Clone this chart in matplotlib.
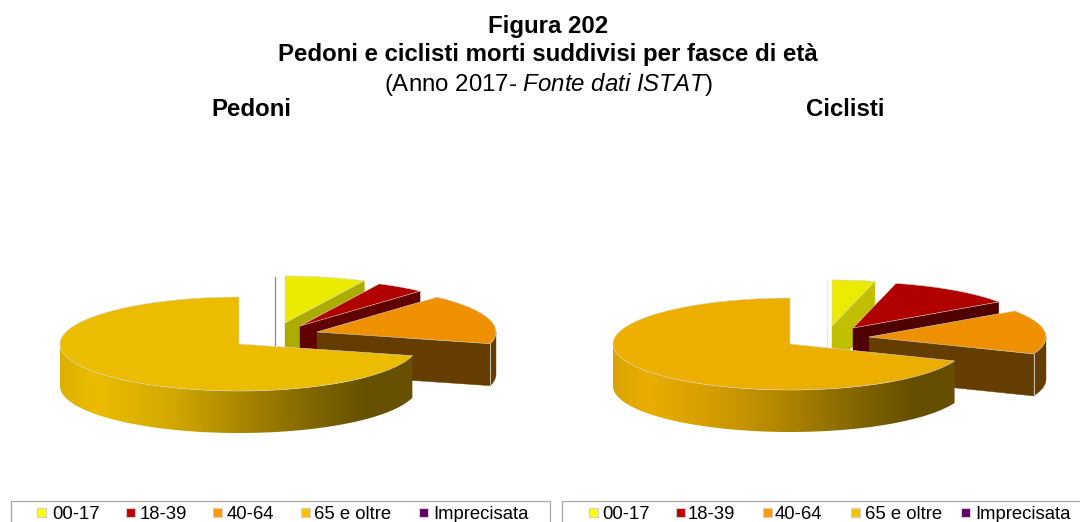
import numpy as np
import matplotlib
matplotlib.use("Agg")
import matplotlib.pyplot as plt
from matplotlib.colors import to_rgb
from matplotlib.patches import Rectangle, Polygon

plt.rcParams['font.family'] = ['Liberation Sans', 'DejaVu Sans']
plt.rcParams['mathtext.fontset'] = 'custom'
plt.rcParams['mathtext.rm'] = 'Liberation Sans'
plt.rcParams['mathtext.it'] = 'Liberation Sans:italic'

categories = ['00-17', '18-39', '40-64', '65 e oltre', 'Imprecisata']
pedoni = [7.3, 4.4, 17.3, 71.0, 0.0]
ciclisti = [3.9, 11.5, 15.6, 69.0, 0.0]

LEGEND_COLORS = ['#FFFF00', '#C00000', '#FF9900', '#FFC000', '#660066']

fig = plt.figure(figsize=(10.8, 5.22), dpi=100)
ax = fig.add_axes([0, 0, 1, 1])
ax.axis('off')


def pt(cx, cy, rx, ry, deg):
    a = np.radians(deg)
    return cx + rx * np.sin(a), cy - ry * np.cos(a)


def shade(t, stops):
    ts = [s[0] for s in stops]
    cols = np.array([to_rgb(s[1]) for s in stops])
    return np.stack([np.interp(t, ts, cols[:, i]) for i in range(3)], axis=-1)


def draw_pie(values, cx, cy, rx, ry, depth, offsets, tops, sides, big_stops, zero_col, rim_col):
    total = sum(values)
    starts = np.cumsum([0] + list(values))[:-1] / total * 360
    order = [4, 0, 1, 2, 3]
    for i in order:
        s = starts[i]
        e = s + values[i] / total * 360
        ox, oy = offsets[i]
        x0, y0 = cx + ox, cy + oy
        if values[i] == 0:
            ax.plot([x0, x0], [y0 - ry, y0 + depth], color=zero_col, lw=0.9, zorder=1 + order.index(i))
            continue
        z = 2 + order.index(i)
        if e < 180:
            px, py = pt(x0, y0, rx, ry, e)
            ax.add_patch(Polygon([(x0, y0), (px, py), (px, py + depth), (x0, y0 + depth)],
                                 fc=sides[i], ec=sides[i], lw=0.3, zorder=z))
        a0, a1 = max(s, 90), min(e, 270)
        if a1 > a0:
            angs = np.linspace(a0, a1, int((a1 - a0) * 2) + 2)
            xs, ys = pt(x0, y0, rx, ry, angs)
            rim = list(zip(xs, ys)) + list(zip(xs[::-1], ys[::-1] + depth))
            if i == 3:
                patch = Polygon(rim, closed=True, fc='none', ec='none', zorder=z)
                ax.add_patch(patch)
                t = np.linspace(0, 1, 512)
                grad = shade(t, big_stops)[np.newaxis, :, :]
                im = ax.imshow(grad, extent=(x0 - rx, x0 + rx, y0 + ry + depth + 1, y0 - 2),
                               aspect='auto', zorder=z, interpolation='bilinear')
                im.set_clip_path(patch)
            else:
                ax.add_patch(Polygon(rim, closed=True, fc=sides[i], ec=sides[i], lw=0.3, zorder=z))
                xe, ye = pt(x0, y0, rx, ry, min(e, 270))
                ax.plot([xe, xe], [ye, ye + depth], color=rim_col, lw=0.6, zorder=z)
        angs = np.linspace(s, e, max(int(e - s) * 2, 8))
        xs, ys = pt(x0, y0, rx, ry, angs)
        poly = [(x0, y0)] + list(zip(xs, ys))
        ax.add_patch(Polygon(poly, closed=True, fc=tops[i], ec=rim_col, lw=0.4, zorder=z + 0.5))


STOPS_P = [(0, '#DDB000'), (0.1, '#EBBC00'), (0.3, '#D5AA00'), (0.5, '#AB8800'),
           (0.68, '#856A00'), (0.85, '#675100'), (1, '#675100')]
STOPS_C = [(0, '#D9A400'), (0.1, '#EAAE00'), (0.3, '#D19C00'), (0.5, '#AC8300'),
           (0.68, '#856700'), (0.85, '#654E00'), (1, '#684F00')]

draw_pie(pedoni, 239, 344, 179, 47, 42,
         [(46, -21), (61, -18), (78, -12), (0, 0), (36, -20)],
         ['#EBEB00', '#B00000', '#EE9000', '#EBBC00', '#660066'],
         ['#ABAB00', '#600000', '#663D00', '#675100', '#660066'],
         STOPS_P, '#8A8A8A', '#D8D6C6')
draw_pie(ciclisti, 790, 344, 177, 46, 42,
         [(42, -18), (63, -16), (79, -7), (0, 0), (37, -18)],
         ['#EBEB00', '#B00000', '#EE9000', '#ECAF00', '#660066'],
         ['#C0C000', '#500000', '#663D00', '#654E00', '#660066'],
         STOPS_C, '#E8E8E8', '#D8D6C6')

ax.set_xlim(0, 1080)
ax.set_ylim(522, 0)

# Titles
ax.text(548, 27, 'Figura 202', ha='center', va='center', fontsize=17.3, fontweight='bold', color='black')
ax.text(548, 55, 'Pedoni e ciclisti morti suddivisi per fasce di età', ha='center', va='center',
        fontsize=17.3, fontweight='bold', color='black')
ax.text(548, 84, r'(Anno 2017- $\mathit{Fonte\ dati\ ISTAT}$)', ha='center', va='center',
        fontsize=17.3, color='black')
ax.text(251.5, 110, 'Pedoni', ha='center', va='center', fontsize=17.3, fontweight='bold', color='black')
ax.text(845, 110, 'Ciclisti', ha='center', va='center', fontsize=17.3, fontweight='bold', color='black')


def legend(box_x, box_w, sq_x, txt_x):
    ax.add_patch(Rectangle((box_x, 500.5), box_w, 30, fc='white', ec='#A8A8A8', lw=0.9, zorder=10))
    for c, col, sx, tx in zip(categories, LEGEND_COLORS, sq_x, txt_x):
        ax.add_patch(Rectangle((sx, 508), 9, 9, fc=col, ec='#D0D0D0', lw=0.8, zorder=11))
        ax.text(tx, 514.5, c, ha='left', va='center', fontsize=13.3, color='black', zorder=11)


legend(10.5, 539.5, [37, 126, 213, 301, 419], [52, 140, 227, 314, 433])
legend(561.5, 530, [589, 676, 763, 851, 961], [602, 688, 775, 865, 975])

fig.savefig('out.png', dpi=100)
